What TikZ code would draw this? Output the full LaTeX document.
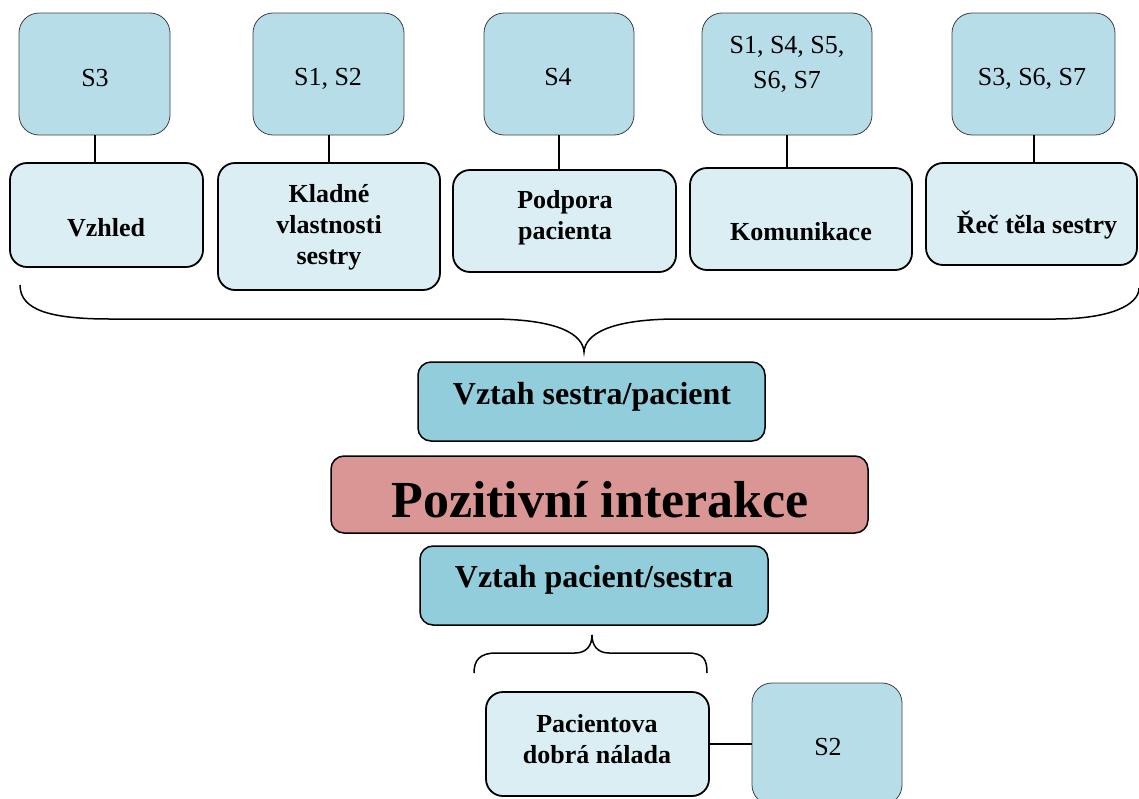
\documentclass[tikz,border=0pt]{standalone}
\usepackage{fontspec}
\setmainfont{Liberation Serif}
\definecolor{srcfill}{HTML}{B7DDE8}
\definecolor{topicfill}{HTML}{DAEEF3}
\definecolor{relfill}{HTML}{92CDDC}
\definecolor{corefill}{HTML}{D99694}
\begin{document}
\begin{tikzpicture}[x=1pt,y=-1pt,
  refbox/.style={draw=black!75, line width=0.8pt, fill=srcfill, rounded corners=20pt, inner sep=0pt},
  topicbox/.style={draw=black, line width=1.8pt, fill=topicfill, rounded corners=17pt, inner sep=0pt},
  relbox/.style={draw=black, line width=1.5pt, fill=relfill, rounded corners=13pt, inner sep=0pt},
  corebox/.style={draw=black, line width=1.5pt, fill=corefill, rounded corners=13pt, inner sep=0pt},
  reftext/.style={font=\fontsize{26}{35}\selectfont, align=center, anchor=base, inner sep=0pt},
  topictext/.style={font=\bfseries\fontsize{26}{31}\selectfont, align=center, anchor=base, inner sep=0pt},
  link/.style={line width=2pt},
  brace/.style={line width=1.5pt}]
\useasboundingbox (0,0) rectangle (1139,798);

% source boxes (top row); multi-line texts are placed by their last baseline
\node[refbox, minimum width=151pt, minimum height=122pt] (r1) at (94.5,74) {};
\node[refbox, minimum width=151pt, minimum height=122pt] (r2) at (328.5,74) {};
\node[refbox, minimum width=150pt, minimum height=122pt] (r3) at (559,74) {};
\node[refbox, minimum width=170pt, minimum height=122pt] (r4) at (787,74) {};
\node[refbox, minimum width=163pt, minimum height=122pt] (r5) at (1033.5,74) {};
\node[reftext] (rt1) at (95,86) {S3};
\node[reftext] (rt2) at (328,85) {S1, S2};
\node[reftext] (rt3) at (558,85) {S4};
\node[reftext] (rt4) at (787,88) {S1, S4, S5,\\ S6, S7};
\node[reftext] (rt5) at (1032,85) {S3, S6, S7};

% topic boxes
\node[topicbox, minimum width=193pt, minimum height=104pt] (b1) at (106.5,215) {};
\node[topicbox, minimum width=222pt, minimum height=127pt] (b2) at (329,226.5) {};
\node[topicbox, minimum width=223pt, minimum height=102pt] (b3) at (564.5,221) {};
\node[topicbox, minimum width=222pt, minimum height=102pt] (b4) at (801,219) {};
\node[topicbox, minimum width=211pt, minimum height=102pt] (b5) at (1031.5,214) {};
\node[topictext] (bt1) at (106,236) {Vzhled};
\node[topictext] (bt2) at (329,264) {Kladné\\ vlastnosti\\ sestry};
\node[topictext] (bt3) at (565,239) {Podpora\\ pacienta};
\node[topictext] (bt4) at (801,240) {Komunikace};
\node[topictext] (bt5) at (1037,233) {Řeč těla sestry};

% links from sources to topics
\foreach \i in {1,...,5}{
  \draw[link] (r\i.south) -- (r\i.south |- b\i.north);
}

% large brace gathering the topics
\draw[brace] (20,285) .. controls (20,310) and (50,319) .. (110,319) -- (490,319)
  .. controls (560,319) and (583,335) .. (584,352)
  .. controls (585,335) and (608,319) .. (678,319) -- (1055,319)
  .. controls (1110,319) and (1139,305) .. (1139,288);

% central relationship boxes
\node[relbox, minimum width=347pt, minimum height=79pt] (v1) at (591.5,401.5) {};
\node[topictext, font=\bfseries\fontsize{32}{38}\selectfont] (vt1) at (592,404) {Vztah sestra/pacient};
\node[corebox, minimum width=537pt, minimum height=77pt] (pi) at (599.5,494.5) {};
\node[topictext, font=\bfseries\fontsize{52}{60}\selectfont] (pit) at (600,517) {Pozitivní interakce};
\node[relbox, minimum width=348pt, minimum height=79pt] (v2) at (594,585.5) {};
\node[topictext, font=\bfseries\fontsize{32}{38}\selectfont] (vt2) at (594,587) {Vztah pacient/sestra};

% small brace below
\draw[brace] (474,673) .. controls (474,660) and (480,653) .. (496,653) -- (575,653)
  .. controls (587,653) and (592,645) .. (592,635)
  .. controls (592,645) and (597,653) .. (609,653) -- (688,653)
  .. controls (704,653) and (707,660) .. (707,673);

% patient mood and its source
\node[topicbox, minimum width=223pt, minimum height=104pt] (pn) at (597.5,744) {};
\node[topictext] (pnt) at (597,763) {Pacientova\\ dobrá nálada};
\node[refbox, minimum width=150pt, minimum height=122pt] (r6) at (827,744) {};
\node[reftext] (rt6) at (828,755) {S2};
\draw[link] (pn.east) -- (pn.east -| r6.west);
\end{tikzpicture}
\end{document}
